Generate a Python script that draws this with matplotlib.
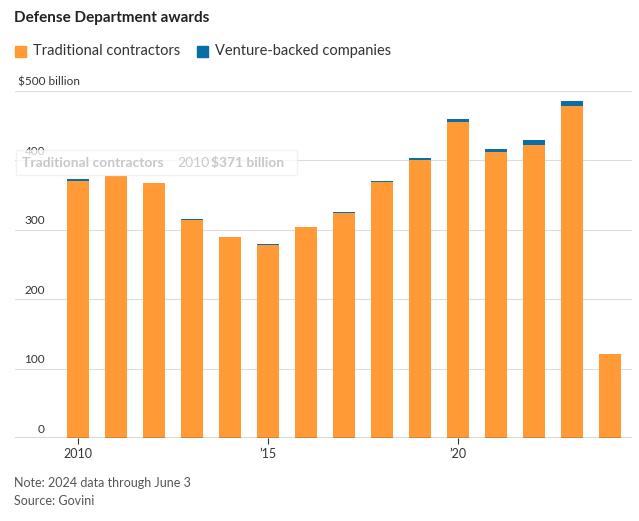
"""
Defense Department awards: traditional contractors vs venture-backed companies.
"""
import matplotlib.pyplot as plt
import matplotlib.transforms as mtransforms

plt.rcParams["font.family"] = ["Lato", "DejaVu Sans"]

YEARS = list(range(2010, 2025))
TRADITIONAL = [371, 377, 367, 314, 290, 278, 304, 324, 369, 400, 455, 412, 422, 478, 121]
VENTURE = [2, 0.5, 0.3, 2, 0.3, 2, 0.5, 2, 2, 4, 5, 4, 8, 7, 0.3]
Y_TICKS = [0, 100, 200, 300, 400, 500]
Y_LABELS = ["0", "100", "200", "300", "400", "$500 billion"]
X_TICKS = [2010, 2015, 2020]
X_LABELS = ["2010", "\u201915", "\u201920"]

ORANGE = "#ff9a36"
BLUE = "#0a6ea6"
W, H = 639, 521

fig = plt.figure(figsize=(6.39, 5.21), dpi=100)
ax = fig.add_axes([15 / W, 83 / H, 617 / W, 347 / H])

ax.bar(YEARS, TRADITIONAL, width=0.6, color=ORANGE, zorder=2)
ax.bar(YEARS, VENTURE, width=0.6, bottom=TRADITIONAL, color=BLUE, zorder=2)

ax.set_xlim(2008.34, 2024.58)
ax.set_ylim(0, 500)
for y in Y_TICKS[1:]:
    ax.axhline(y, color="#dddddd", lw=0.8, zorder=0)
ax.axhline(0, color="#333333", lw=1, zorder=3)

trans = mtransforms.blended_transform_factory(fig.transFigure, ax.transData)
for y, lab in zip(Y_TICKS, Y_LABELS):
    if y == 500:
        ax.text(18 / W, y + 5, lab, transform=trans, ha="left", va="bottom",
                fontsize=8.5, color="#333333")
    else:
        ax.text(45 / W, y + 5, lab, transform=trans, ha="right", va="bottom",
                fontsize=8.5, color="#333333")

ax.set_yticks([])
ax.set_xticks(X_TICKS)
ax.set_xticklabels(X_LABELS, fontsize=9, color="#333333")
ax.tick_params(axis="x", length=4, color="#333333", pad=3)
for s in ax.spines.values():
    s.set_visible(False)

# faded tooltip left over from the interactive chart
fig.patches.append(plt.Rectangle((16 / W, 1 - 175 / H), 281 / W, 25 / H,
                                 facecolor="white", alpha=0.75, edgecolor="#eeeeee",
                                 transform=fig.transFigure, zorder=4))
ty = 1 - 163 / H
fig.text(22 / W, ty, "Traditional contractors", fontsize=10, fontweight="bold",
         color="#c8c8c8", va="center", zorder=5)
fig.text(177 / W, ty, "2010", fontsize=10, color="#c8c8c8", va="center", zorder=5)
fig.text(211 / W, ty, "$371 billion", fontsize=10, fontweight="bold",
         color="#c8c8c8", va="center", zorder=5)

fig.text(14 / W, 1 - 18 / H, "Defense Department awards", fontsize=11,
         fontweight="bold", color="#222222", va="center")
fig.patches.append(plt.Rectangle((15 / W, 1 - 57 / H), 11 / W, 11 / H,
                                 color=ORANGE, transform=fig.transFigure))
fig.text(33 / W, 1 - 51 / H, "Traditional contractors", fontsize=10.5,
         color="#333333", va="center")
fig.patches.append(plt.Rectangle((197 / W, 1 - 57 / H), 11 / W, 11 / H,
                                 color=BLUE, transform=fig.transFigure))
fig.text(215 / W, 1 - 51 / H, "Venture-backed companies", fontsize=10.5,
         color="#333333", va="center")

fig.text(14 / W, 1 - 483 / H, "Note: 2024 data through June 3", fontsize=9,
         color="#555555", va="center")
fig.text(14 / W, 1 - 501 / H, "Source: Govini", fontsize=9,
         color="#555555", va="center")

fig.savefig("out.png", dpi=100)
